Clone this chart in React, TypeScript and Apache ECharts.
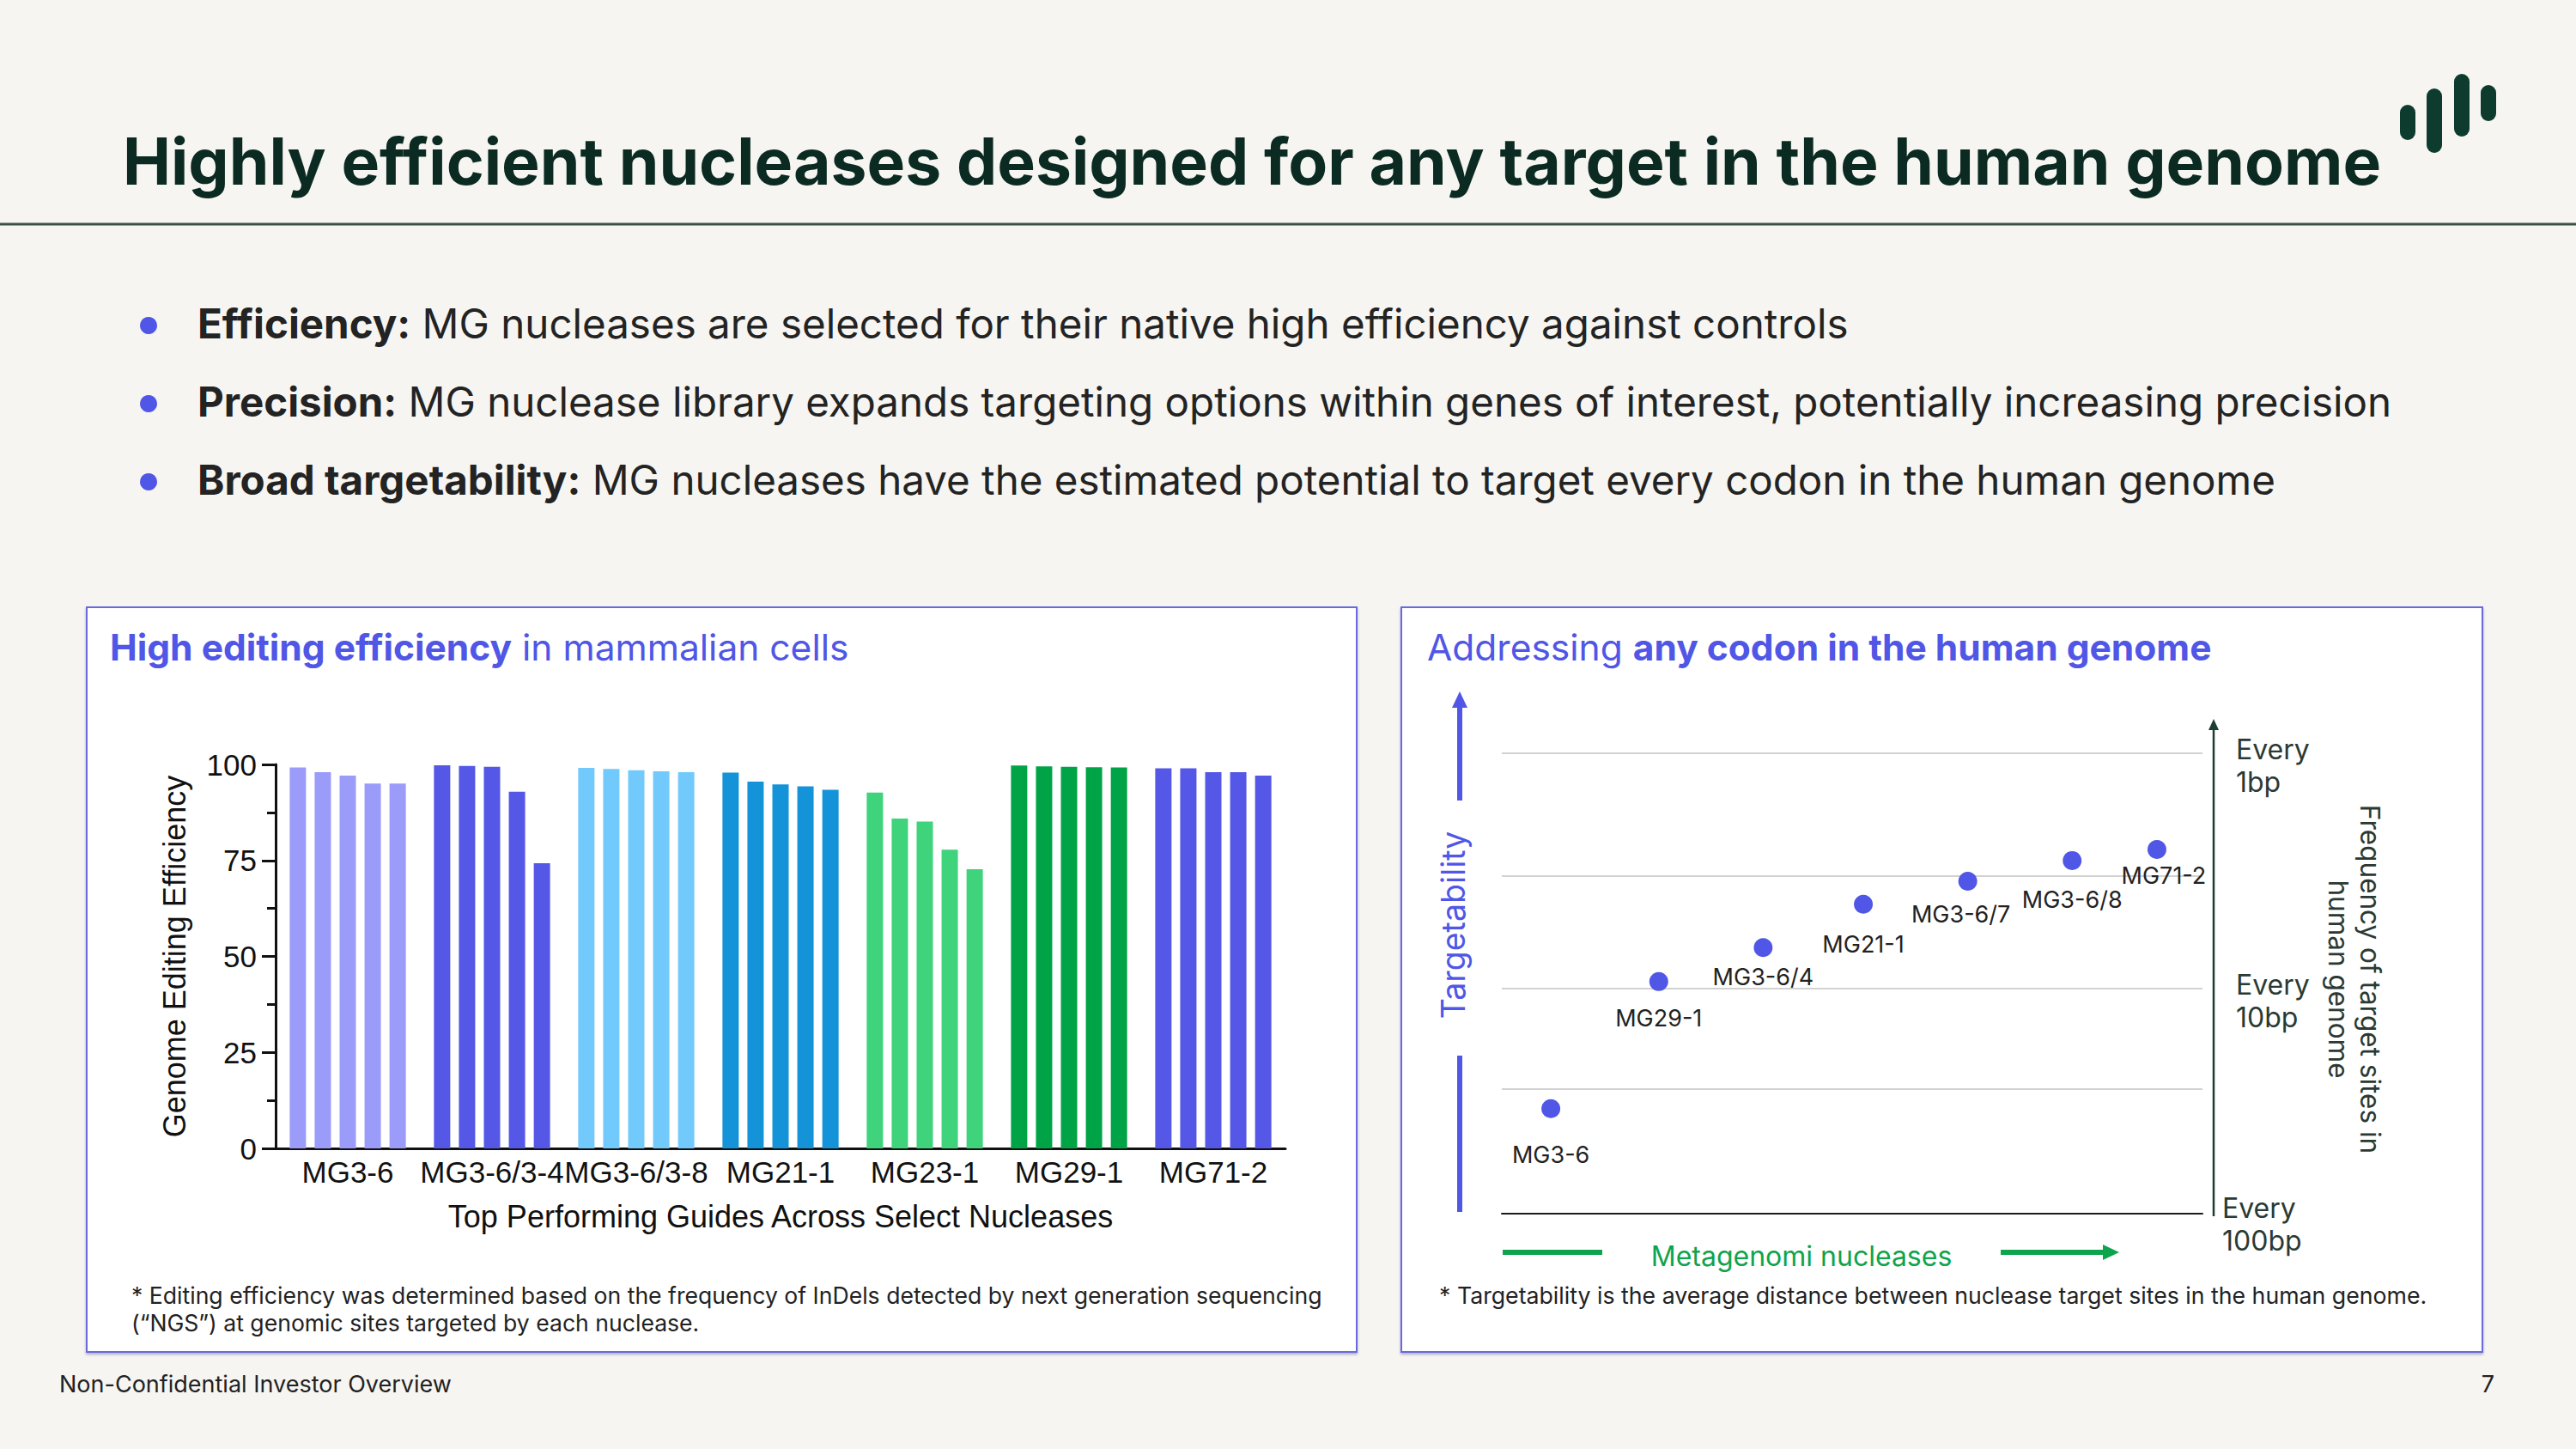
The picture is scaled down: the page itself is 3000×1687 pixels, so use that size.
import React, { useEffect, useRef } from 'react';
import * as echarts from 'echarts';

// ---------- Data ----------
const nucleases = ['MG3-6', 'MG3-6/3-4', 'MG3-6/3-8', 'MG21-1', 'MG23-1', 'MG29-1', 'MG71-2'];
const guide1 = [99.2, 99.8, 99.1, 97.9, 92.7, 99.7, 99.0];
const guide2 = [98.0, 99.6, 98.8, 95.5, 85.9, 99.5, 99.0];
const guide3 = [97.1, 99.4, 98.5, 94.8, 85.1, 99.4, 98.0];
const guide4 = [95.0, 92.9, 98.2, 94.3, 77.8, 99.3, 98.0];
const guide5 = [95.0, 74.3, 98.0, 93.4, 72.7, 99.2, 97.1];
const guides = [guide1, guide2, guide3, guide4, guide5];
const nucleaseColors = ['#9b9bfa', '#5558e6', '#72cafc', '#1593d9', '#3fd37c', '#00a446', '#5558e6'];
const yTicks = [0, 25, 50, 75, 100];

const pointNames = ['MG3-6', 'MG29-1', 'MG3-6/4', 'MG21-1', 'MG3-6/7', 'MG3-6/8', 'MG71-2'];
const pointX = [7.0, 22.4, 37.3, 51.6, 66.5, 81.4, 93.5];
const pointY = [22.8, 50.4, 57.8, 67.2, 72.2, 76.7, 79.1];
const gridLevels = [27.1, 48.9, 73.3, 100];
const frequencyLabels = ['Every\n1bp', 'Every\n10bp', 'Every\n100bp'];

// label placement (style only)
const labelDistance = [29, 18, 10, 22, 14, 21, 6];
const labelShiftX = [0, 0, 0, 0, -8, 0, 8];

const FONT = 'Inter, "Noto Sans", sans-serif';
const ARIAL = '"Liberation Sans", Arial, sans-serif';
const BLUE = '#5056e6';

function txt(x: number, y: number, text: string, st: any, extra: any = {}) {
  const align = st.align || 'left';
  const va = st.verticalAlign || 'middle';
  return {
    type: 'text',
    x,
    y,
    z: 20,
    ...extra,
    style: {
      text,
      fontFamily: FONT,
      ...st,
      align,
      verticalAlign: va,
      textAlign: align,
      textVerticalAlign: va,
    },
  };
}

export default function App() {
  const ref = useRef<HTMLDivElement>(null);

  useEffect(() => {
    if (!ref.current) return;
    const chart = echarts.init(ref.current, undefined, { renderer: 'svg' });

    const barSeries = guides.map((g, gi) => ({
      type: 'bar',
      name: 'Guide ' + (gi + 1),
      xAxisIndex: 0,
      yAxisIndex: 0,
      barWidth: 19,
      barGap: '53%',
      data: g.map((v, i) => ({ value: v, itemStyle: { color: nucleaseColors[i] } })),
      z: 5,
    }));

    const bulletRich = { b: { fontSize: 47.5, fontWeight: 700, fontFamily: FONT, fill: '#232323' } };
    const titleRich = { b: { fontSize: 42.5, fontWeight: 700, fontFamily: FONT, fill: BLUE } };

    const graphics: any[] = [
      // panels
      {
        type: 'rect', z: -10,
        shape: { x: 101, y: 707, width: 1479, height: 867 },
        style: { fill: '#ffffff', stroke: '#6a6ade', lineWidth: 2, shadowBlur: 3, shadowOffsetY: 2, shadowColor: 'rgba(40,40,120,0.35)' },
      },
      {
        type: 'rect', z: -10,
        shape: { x: 1632, y: 707, width: 1259, height: 867 },
        style: { fill: '#ffffff', stroke: '#6a6ade', lineWidth: 2, shadowBlur: 3, shadowOffsetY: 2, shadowColor: 'rgba(40,40,120,0.35)' },
      },
      // header rule
      { type: 'line', z: 20, shape: { x1: 0, y1: 261, x2: 3000, y2: 261 }, style: { stroke: '#3a5046', lineWidth: 3 } },
      // logo
      { type: 'rect', z: 20, shape: { x: 2795, y: 122, width: 18, height: 41, r: 9 }, style: { fill: '#0d3b2e' } },
      { type: 'rect', z: 20, shape: { x: 2826, y: 103, width: 18, height: 75, r: 9 }, style: { fill: '#0d3b2e' } },
      { type: 'rect', z: 20, shape: { x: 2858, y: 86, width: 18, height: 73, r: 9 }, style: { fill: '#0d3b2e' } },
      { type: 'rect', z: 20, shape: { x: 2889, y: 99, width: 18, height: 42, r: 9 }, style: { fill: '#0d3b2e' } },
      // title
      txt(143, 187, 'Highly efficient nucleases designed for any target in the human genome', {
        fontSize: 75, fontWeight: 700, fill: '#0b2b22',
      }),
      // bullets
      { type: 'circle', z: 20, shape: { cx: 173, cy: 379, r: 10 }, style: { fill: BLUE } },
      { type: 'circle', z: 20, shape: { cx: 173, cy: 470, r: 10 }, style: { fill: BLUE } },
      { type: 'circle', z: 20, shape: { cx: 173, cy: 561, r: 10 }, style: { fill: BLUE } },
      txt(230, 376, '{b|Efficiency:} MG nucleases are selected for their native high efficiency against controls', {
        fontSize: 47.5, fill: '#232323', rich: bulletRich,
      }),
      txt(230, 467, '{b|Precision:} MG nuclease library expands targeting options within genes of interest, potentially increasing precision', {
        fontSize: 47.5, fill: '#232323', rich: bulletRich,
      }),
      txt(230, 558, '{b|Broad targetability:} MG nucleases have the estimated potential to target every codon in the human genome', {
        fontSize: 47.5, fill: '#232323', rich: bulletRich,
      }),
      // panel titles
      txt(128, 753, '{b|High editing efficiency} in mammalian cells', {
        fontSize: 42.5, fill: BLUE, rich: titleRich,
      }),
      txt(1662, 753, 'Addressing {b|any codon in the human genome}', {
        fontSize: 42.5, fill: BLUE, rich: titleRich,
      }),
      // footnotes
      txt(153, 1508, '* Editing efficiency was determined based on the frequency of InDels detected by next generation sequencing', {
        fontSize: 26.6, fill: '#222',
      }),
      txt(153, 1540, '(\u201CNGS\u201D) at genomic sites targeted by each nuclease.', { fontSize: 26.6, fill: '#222' }),
      txt(1676, 1508, '* Targetability is the average distance between nuclease target sites in the human genome.', {
        fontSize: 26.7, fill: '#222',
      }),
      // footer
      txt(69, 1611, 'Non-Confidential Investor Overview', { fontSize: 27, fill: '#222' }),
      txt(2905, 1611, '7', { fontSize: 27, fill: '#222', align: 'right' }),
      // targetability arrow (left)
      { type: 'line', z: 20, shape: { x1: 1700, y1: 822, x2: 1700, y2: 932 }, style: { stroke: BLUE, lineWidth: 6 } },
      { type: 'polygon', z: 20, shape: { points: [[1700, 805], [1691, 824], [1709, 824]] }, style: { fill: BLUE } },
      { type: 'line', z: 20, shape: { x1: 1700, y1: 1229, x2: 1700, y2: 1411 }, style: { stroke: BLUE, lineWidth: 6 } },
      txt(1692, 1077, 'Targetability', { fontSize: 37.5, fill: BLUE, align: 'center' }, { rotation: Math.PI / 2 }),
      // right frequency axis
      { type: 'line', z: 20, shape: { x1: 2578, y1: 846, x2: 2578, y2: 1416 }, style: { stroke: '#1d3f33', lineWidth: 2.5 } },
      { type: 'polygon', z: 20, shape: { points: [[2578, 837], [2572, 850], [2584, 850]] }, style: { fill: '#1d3f33' } },
      txt(2604, 891, frequencyLabels[0], { fontSize: 32, lineHeight: 38, fill: '#2a3a33' }),
      txt(2604, 1165, frequencyLabels[1], { fontSize: 32, lineHeight: 38, fill: '#2a3a33' }),
      txt(2588, 1425, frequencyLabels[2], { fontSize: 32, lineHeight: 38, fill: '#2a3a33' }),
      txt(2742, 1140, 'Frequency of target sites in\nhuman genome', {
        fontSize: 31.5, lineHeight: 37, fill: '#2a3a33', align: 'center',
      }, { rotation: -Math.PI / 2 }),
      // metagenomi nucleases arrow
      { type: 'line', z: 20, shape: { x1: 1750, y1: 1458, x2: 1866, y2: 1458 }, style: { stroke: '#0ea44b', lineWidth: 6 } },
      { type: 'line', z: 20, shape: { x1: 2330, y1: 1458, x2: 2451, y2: 1458 }, style: { stroke: '#0ea44b', lineWidth: 6 } },
      { type: 'polygon', z: 20, shape: { points: [[2468, 1458], [2449, 1449], [2449, 1467]] }, style: { fill: '#0ea44b' } },
      txt(2098, 1462, 'Metagenomi nucleases', { fontSize: 32, fill: '#0ea44b', align: 'center' }),
    ];

    const option: any = {
      animation: false,
      backgroundColor: '#f6f5f1',
      textStyle: { fontFamily: FONT },
      grid: [
        { left: 321, top: 890, width: 1176, height: 447, containLabel: false },
        { left: 1749, top: 877, width: 816, height: 536, containLabel: false },
      ],
      xAxis: [
        {
          type: 'category',
          gridIndex: 0,
          data: nucleases,
          axisLine: { show: true, lineStyle: { color: '#111', width: 3 } },
          axisTick: { show: false },
          axisLabel: { fontSize: 35, color: '#111', fontFamily: ARIAL, margin: 10, interval: 0 },
          name: 'Top Performing Guides Across Select Nucleases',
          nameLocation: 'middle',
          nameGap: 61,
          nameTextStyle: { fontSize: 36, color: '#111', fontFamily: ARIAL },
        },
        {
          type: 'value',
          gridIndex: 1,
          min: 0,
          max: 100,
          axisLine: { show: true, lineStyle: { color: '#1a1a1a', width: 2 } },
          axisTick: { show: false },
          axisLabel: { show: false },
          splitLine: { show: false },
        },
      ],
      yAxis: [
        {
          type: 'value',
          gridIndex: 0,
          min: yTicks[0],
          max: yTicks[yTicks.length - 1],
          interval: 25,
          axisLine: { show: true, lineStyle: { color: '#111', width: 3 } },
          axisTick: { show: true, length: 16, lineStyle: { color: '#111', width: 3 } },
          minorTick: { show: true, splitNumber: 2, length: 10, lineStyle: { color: '#111', width: 3 } },
          splitLine: { show: false },
          axisLabel: { fontSize: 35, color: '#111', fontFamily: ARIAL, margin: 22 },
          name: 'Genome Editing Efficiency',
          nameLocation: 'middle',
          nameRotate: 90,
          nameGap: 100,
          nameTextStyle: { fontSize: 36, color: '#111', fontFamily: ARIAL },
        },
        {
          type: 'value',
          gridIndex: 1,
          min: 0,
          max: 100,
          show: false,
        },
      ],
      series: [
        ...barSeries,
        {
          type: 'scatter',
          xAxisIndex: 1,
          yAxisIndex: 1,
          symbolSize: 22,
          itemStyle: { color: BLUE, opacity: 1 },
          z: 5,
          label: {
            show: true,
            formatter: '{b}',
            position: 'bottom',
            fontSize: 27,
            color: '#222',
            fontFamily: FONT,
          },
          data: pointNames.map((n, i) => ({
            name: n,
            value: [pointX[i], pointY[i]],
            label: { distance: labelDistance[i], offset: [labelShiftX[i], 0] },
          })),
          markLine: {
            silent: true,
            symbol: ['none', 'none'],
            label: { show: false },
            lineStyle: { color: '#d2d2d2', width: 2, type: 'solid' },
            data: gridLevels.map((v) => ({ yAxis: v })),
            z: 1,
          },
        },
      ],
      graphic: { elements: graphics },
    };

    chart.setOption(option);
    return () => chart.dispose();
  }, []);

  return <div ref={ref} style={{ position: 'fixed', left: 0, top: 0, width: 3000, height: 1687 }} />;
}
